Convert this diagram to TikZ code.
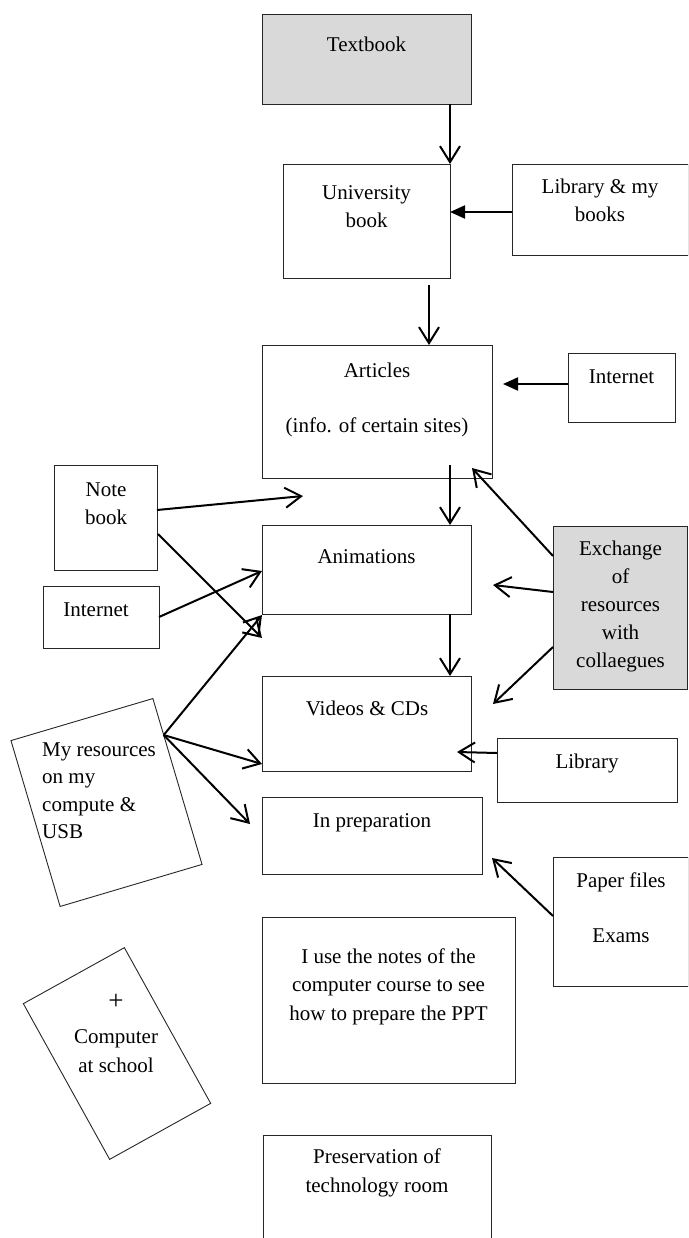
\documentclass[tikz,border=0pt]{standalone}
\usepackage{fontspec}
\setmainfont{Liberation Serif}
\usetikzlibrary{arrows.meta,calc}
\definecolor{boxgray}{HTML}{D9D9D9}
\definecolor{edgecol}{HTML}{262626}
\begin{document}
\begin{tikzpicture}[x=1pt,y=-1pt,
 box/.style={draw=edgecol,line width=0.9pt,inner sep=0pt,outer sep=0pt,rectangle},
 txt/.style={font=\fontsize{21}{28}\selectfont,inner sep=0pt,align=center,anchor=base},
 arr/.style={line width=2pt,-{Straight Barb[length=16pt,width=20pt,line width=2pt]}},
 farr/.style={line width=2pt,-{Triangle[length=15pt,width=13pt]}}]
\useasboundingbox (0,0) rectangle (688,1238);
\clip (0,0) rectangle (688,1238);

% boxes
\node[box,fill=boxgray,minimum width=209pt,minimum height=90pt] (textbook) at (366.5,59) {};
\node[box,minimum width=167pt,minimum height=114pt] (univ) at (366.5,221) {};
\node[box,minimum width=176pt,minimum height=91pt] (libb) at (600,209.5) {};
\node[box,minimum width=230pt,minimum height=133pt] (art) at (377,411.5) {};
\node[box,minimum width=107pt,minimum height=69pt] (inetR) at (621.5,387.5) {};
\node[box,minimum width=209pt,minimum height=89pt] (anim) at (366.5,569.5) {};
\node[box,minimum width=209pt,minimum height=95pt] (vid) at (366.5,723.5) {};
\node[box,fill=boxgray,minimum width=134pt,minimum height=163pt] (exch) at (620,607.5) {};
\node[box,minimum width=180pt,minimum height=64pt] (libR) at (587,770) {};
\node[box,minimum width=220pt,minimum height=77pt] (prep) at (372,835.5) {};
\node[box,minimum width=135pt,minimum height=129pt] (paper) at (620.5,921.5) {};
\node[box,minimum width=253pt,minimum height=166pt] (notes) at (388.5,1000) {};
\node[box,minimum width=228pt,minimum height=125pt] (pres) at (377,1197.5) {};
\node[box,minimum width=103pt,minimum height=105pt] (note) at (105.5,517.5) {};
\node[box,minimum width=116pt,minimum height=62pt] (inetL) at (101,617) {};
\node[box,minimum width=148pt,minimum height=173pt,rotate=16.5] (myres) at (106.5,802.5) {};
\node[box,minimum width=115.5pt,minimum height=178pt,rotate=29] (comp) at (117,1053.5) {};

% texts (anchor = baseline of the last line)
\node[txt] (textbookT) at (366.5,52) {Textbook};
\node[txt] (univT) at (366.5,228) {University\\book};
\node[txt] (libbT) at (600,222) {Library \& my\\books};
\node[txt] (artT) at (377,432) {Articles\\[27pt](info. of certain sites)};
\node[txt] (inetRT) at (621.5,383) {Internet};
\node[txt] (animT) at (366.5,563) {Animations};
\node[txt] (vidT) at (367,715) {Videos \& CDs};
\node[txt,font=\fontsize{21}{27.8}\selectfont] (exchT) at (620.5,667) {Exchange\\of\\resources\\with\\collaegues};
\node[txt] (libRT) at (587,768) {Library};
\node[txt] (prepT) at (372,827) {In preparation};
\node[txt] (paperT) at (621,942) {Paper files\\[27pt]Exams};
\node[txt,font=\fontsize{21}{28.5}\selectfont] (notesT) at (388.5,1020) {I use the notes of the\\computer course to see\\how to prepare the PPT};
\node[txt,font=\fontsize{21}{29}\selectfont] (presT) at (377,1192) {Preservation of\\technology room};
\node[txt] (noteT) at (106,524) {Note\\book};
\node[txt] (inetLT) at (96,616) {Internet};
\node[txt,font=\fontsize{21}{27.5}\selectfont,align=left,anchor=base west] (myresT) at (42,838.5) {My resources\\on my\\compute \&\\USB};
\node[inner sep=0pt,font=\fontsize{27}{30}\selectfont] (plusT) at (116,1002) {+};
\node[txt,font=\fontsize{21}{29}\selectfont] (compT) at (116,1072) {Computer\\at school};

% free ends
\coordinate (c3) at (429,285);
\coordinate (c4) at (503,384);
\coordinate (c5) at (450,465);
\coordinate (c7) at (472,468);
\coordinate (c8) at (493,585);
\coordinate (c9) at (493,704);
\coordinate (c10) at (457,752);
\coordinate (c11) at (492,858);
\coordinate (c12) at (303,496);
\coordinate (c13) at (262,638);
\coordinate (c17) at (250,824);
\coordinate (mr) at ($(myres.north east)!0.22!(myres.south east)$);

% connectors
\draw[arr] (univ.north east |- textbook.south) -- (univ.north east);
\draw[farr] ($(libb.west)+(0,2.5)$) -- ($(libb.west -| univ.east)+(0,2.5)$);
\draw[arr] (c3) -- (c3 |- art.north);
\draw[farr] (c4 -| inetR.west) -- (c4);
\draw[arr] (c5) -- (c5 |- anim.north);
\draw[arr] (c5 |- anim.south) -- (c5 |- vid.north);
\draw[arr] ($(exch.north west)+(0,30)$) -- (c7);
\draw[arr] ($(exch.north west)+(0,66)$) -- (c8);
\draw[arr] ($(exch.north west)+(0,121)$) -- (c9);
\draw[arr] ($(libR.north west)+(0,15)$) -- (c10);
\draw[arr] ($(paper.north west)+(0,59)$) -- (c11);
\draw[arr] ($(note.north east)+(0,45)$) -- (c12);
\draw[arr] ($(note.north east)+(1,69)$) -- (c13);
\draw[arr] (inetL.east) -- ($(anim.west)+(0,1.5)$);
\draw[arr] (mr) -- ($(anim.south west)+(0,1)$);
\draw[arr] (mr) -- ($(vid.south west)+(0,-7)$);
\draw[arr] (mr) -- (c17);
\end{tikzpicture}
\end{document}
